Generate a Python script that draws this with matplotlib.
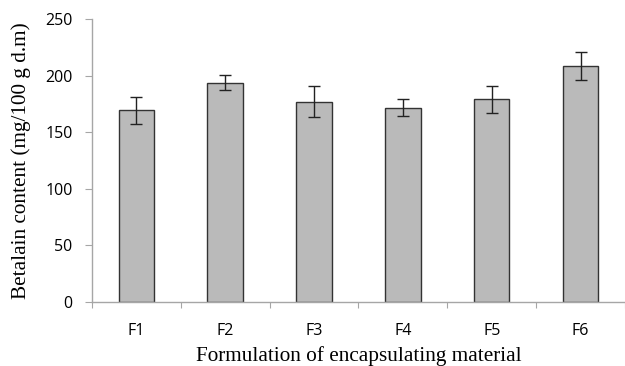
import matplotlib.pyplot as plt
import numpy as np

# ── data ──
formulations = ["F1", "F2", "F3", "F4", "F5", "F6"]
betalain = [169.3, 193.7, 177.0, 171.6, 179.2, 208.5]
betalain_err = [12.0, 6.5, 14.0, 7.5, 12.0, 12.3]
y_ticks = [0, 50, 100, 150, 200, 250]

GRAY_BAR = "#bababa"
EDGE = "#333333"
SPINE = "#a6a6a6"

fig = plt.figure(figsize=(6.25, 3.66), dpi=100)
ax = fig.add_axes([0.147, 0.175, 0.853, 0.773])

x = np.arange(len(formulations))
ax.bar(x, betalain, width=0.4, color=GRAY_BAR, edgecolor=EDGE, linewidth=1.0)
ax.errorbar(x, betalain, yerr=betalain_err, fmt="none", ecolor="#222222",
            elinewidth=1.0, capsize=4, capthick=1.0)

ax.set_xlim(-0.5, len(formulations) - 0.5)
ax.set_ylim(0, 250)
ax.set_yticks(y_ticks)

# x ticks sit on the category boundaries, labels at centres
ax.set_xticks(np.arange(-0.5, len(formulations) + 0.5, 1.0))
ax.set_xticklabels([])
ax.set_xticks(x, minor=True)
ax.set_xticklabels(formulations, minor=True)
ax.tick_params(axis="x", which="minor", length=0, pad=15)
ax.tick_params(axis="x", which="major", length=4, color=SPINE, direction="out")
ax.tick_params(axis="y", length=5, color=SPINE, direction="out", pad=9)
for lab in ax.get_yticklabels() + ax.get_xticklabels(minor=True):
    lab.set_fontsize(11.5)
    lab.set_family("Open Sans")

for s in ["top", "right"]:
    ax.spines[s].set_visible(False)
for s in ["left", "bottom"]:
    ax.spines[s].set_color(SPINE)
    ax.spines[s].set_linewidth(1.0)

ax.set_ylabel("Betalain content (mg/100 g d.m)", fontsize=15.3,
              family="Liberation Serif", labelpad=10)
ax.set_xlabel("Formulation of encapsulating material", fontsize=15.3,
              family="Liberation Serif", labelpad=5)

fig.savefig("out.png", dpi=100, facecolor="white")
